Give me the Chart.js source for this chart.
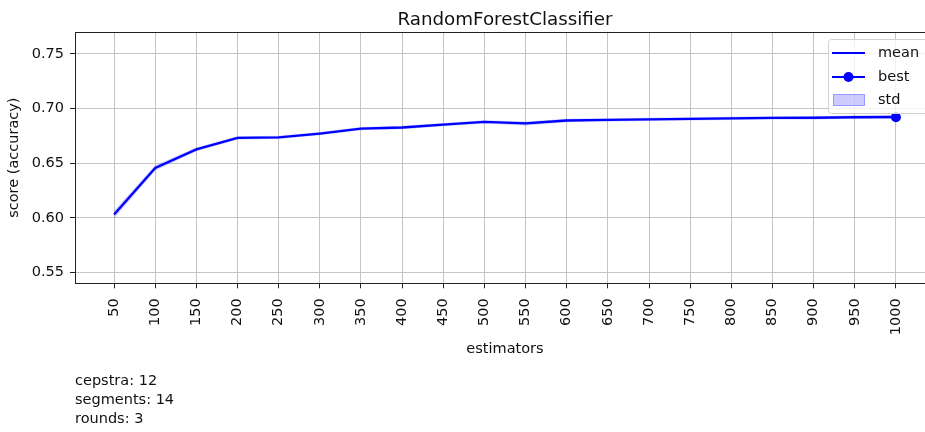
<!DOCTYPE html>
<html>
<head>
<meta charset="utf-8">
<script src="https://cdn.jsdelivr.net/npm/chart.js@4"></script>
<style>
  html, body { margin: 0; padding: 0; background: #fff; overflow: hidden; width: 925px; height: 432px; }
  #wrap { position: relative; width: 945px; height: 432px; }
  #info { position: absolute; left: 75px; top: 371px; font: 14.5px "DejaVu Sans", sans-serif; line-height: 19px; color: #111; }
</style>
</head>
<body>
<div id="wrap">
  <canvas id="myChart" width="945" height="432"></canvas>
  <div id="info"></div>
</div>
<script>
// values
const chartTitle = 'RandomForestClassifier';
const estimators = [50, 100, 150, 200, 250, 300, 350, 400, 450, 500, 550, 600, 650, 700, 750, 800, 850, 900, 950, 1000];
const meanScore = [0.6030, 0.6457, 0.6626, 0.6731, 0.6735, 0.6771, 0.6815, 0.6826, 0.6852, 0.6878, 0.6863, 0.6890, 0.6895, 0.6900, 0.6905, 0.6910, 0.6914, 0.6915, 0.6920, 0.6922];
const stdScore = [0.0035, 0.0025, 0.0018, 0.0015, 0.0015, 0.0015, 0.0015, 0.0015, 0.0015, 0.0015, 0.0018, 0.0015, 0.0015, 0.0015, 0.0015, 0.0015, 0.0015, 0.0015, 0.0015, 0.0015];
const bestEstimators = [1000];
const bestScore = [0.6920];
const yTicks = [0.55, 0.60, 0.65, 0.70, 0.75];
const infoLines = ['cepstra: 12', 'segments: 14', 'rounds: 3'];

document.getElementById('info').innerHTML = infoLines.join('<br>');

const FONT = '"DejaVu Sans", sans-serif';
const BLUE = '#0000ff';

let upper = estimators.map((x, i) => ({ x: x, y: meanScore[i] + stdScore[i] }));
let lower = estimators.map((x, i) => ({ x: x, y: meanScore[i] - stdScore[i] }));
let mean = estimators.map((x, i) => ({ x: x, y: meanScore[i] }));
let best = bestEstimators.map((x, i) => ({ x: x, y: bestScore[i] }));

// title centred over the axes, like matplotlib
const titlePlugin = {
  id: 'titlePlugin',
  afterDraw: (chart) => {
    const a = chart.chartArea;
    const ctx = chart.ctx;
    ctx.save();
    ctx.font = '18.3px ' + FONT;
    ctx.fillStyle = '#111';
    ctx.textAlign = 'center';
    ctx.textBaseline = 'alphabetic';
    ctx.fillText(chartTitle, (a.left + a.right) / 2, a.top - 7);
    ctx.restore();
  }
};

// axes frame (matplotlib spines)
const framePlugin = {
  id: 'framePlugin',
  afterDatasetsDraw: (chart) => {
    const a = chart.chartArea;
    const ctx = chart.ctx;
    ctx.save();
    ctx.strokeStyle = '#222';
    ctx.lineWidth = 1;
    ctx.strokeRect(Math.round(a.left) + 0.5, Math.round(a.top) + 0.5, Math.round(a.right - a.left), Math.round(a.bottom - a.top));
    ctx.restore();
  }
};

// legend drawn inside the axes, upper right
const legendPlugin = {
  id: 'legendPlugin',
  afterDraw: (chart) => {
    const a = chart.chartArea;
    const ctx = chart.ctx;
    const left = a.right - 107, top = a.top + 7, w = 100, h = 74;
    ctx.save();
    ctx.fillStyle = 'rgba(255,255,255,0.8)';
    ctx.strokeStyle = '#d0d0d0';
    ctx.lineWidth = 1;
    ctx.beginPath();
    ctx.roundRect(left + 0.5, top + 0.5, w, h, 3);
    ctx.fill();
    ctx.stroke();

    const hx0 = left + 4, hx1 = left + 37, tx = left + 50;
    const rows = [top + 14, top + 38, top + 61];
    ctx.font = '14.5px ' + FONT;
    ctx.fillStyle = '#111';
    ctx.textBaseline = 'middle';

    // mean
    ctx.strokeStyle = BLUE; ctx.lineWidth = 2.2;
    ctx.beginPath(); ctx.moveTo(hx0, rows[0]); ctx.lineTo(hx1, rows[0]); ctx.stroke();
    ctx.fillText(chart.data.datasets[2].label, tx, rows[0]);
    // best
    ctx.beginPath(); ctx.moveTo(hx0, rows[1]); ctx.lineTo(hx1, rows[1]); ctx.stroke();
    ctx.fillStyle = BLUE;
    ctx.beginPath(); ctx.arc((hx0 + hx1) / 2, rows[1], 5, 0, Math.PI * 2); ctx.fill();
    ctx.fillStyle = '#111';
    ctx.fillText(chart.data.datasets[3].label, tx, rows[1]);
    // std
    ctx.fillStyle = 'rgba(0,0,255,0.2)';
    ctx.fillRect(hx0 + 1, rows[2] - 6, hx1 - hx0 - 1, 12);
    ctx.strokeStyle = 'rgba(0,0,255,0.25)'; ctx.lineWidth = 1;
    ctx.strokeRect(hx0 + 1.5, rows[2] - 5.5, hx1 - hx0 - 2, 11);
    ctx.fillStyle = '#111';
    ctx.fillText(chart.data.datasets[1].label, tx, rows[2]);
    ctx.restore();
  }
};

let ctx = document.getElementById('myChart').getContext('2d');

let myChart = new Chart(ctx, {
  type: 'line',
  data: {
    datasets: [{
      label: 'std_low',
      data: lower,
      borderWidth: 0,
      pointRadius: 0,
      fill: false
    },
    {
      label: 'std',
      data: upper,
      borderWidth: 0,
      pointRadius: 0,
      backgroundColor: 'rgba(0,0,255,0.2)',
      fill: '-1'
    },
    {
      label: 'mean',
      data: mean,
      borderColor: BLUE,
      borderWidth: 2.3,
      pointRadius: 0,
      fill: false
    },
    {
      label: 'best',
      data: best,
      borderColor: BLUE,
      backgroundColor: BLUE,
      borderWidth: 2.3,
      pointRadius: 5,
      pointBorderWidth: 0,
      fill: false
    }]
  },
  options: {
    responsive: false,
    animation: false,
    devicePixelRatio: 1,
    layout: { padding: { left: 0, right: 10, top: 32, bottom: 74 } },
    plugins: {
      legend: { display: false },
      tooltip: { enabled: false },
      title: { display: false }
    },
    scales: {
      x: {
        type: 'linear',
        min: 2.5,
        max: 1047.5,
        afterBuildTicks: (s) => { s.ticks = estimators.map(v => ({ value: v })); },
        afterFit: (s) => { s.height = 74.7; },
        ticks: {
          minRotation: 90,
          maxRotation: 90,
          autoSkip: false,
          padding: 10,
          color: '#111',
          font: { family: FONT, size: 14.5 },
          callback: (v) => String(v)
        },
        grid: { color: '#c4c4c4', lineWidth: 1, tickLength: 5, tickColor: '#222' },
        border: { display: false },
        title: {
          display: true,
          text: 'estimators',
          color: '#111',
          font: { family: FONT, size: 14.5 },
          padding: { top: 0, bottom: 0 }
        }
      },
      y: {
        min: 0.5402,
        max: 0.7699,
        afterBuildTicks: (s) => { s.ticks = yTicks.map(v => ({ value: v })); },
        afterFit: (s) => { s.width = 75; },
        ticks: {
          padding: 6,
          color: '#111',
          font: { family: FONT, size: 14.5 },
          callback: (v) => v.toFixed(2)
        },
        grid: { color: '#c4c4c4', lineWidth: 1, tickLength: 5, tickColor: '#222' },
        border: { display: false },
        title: {
          display: true,
          text: 'score (accuracy)',
          color: '#111',
          font: { family: FONT, size: 14.5 },
          padding: { top: 6, bottom: 0 }
        }
      }
    }
  },
  plugins: [titlePlugin, framePlugin, legendPlugin]
});
</script>
</body>
</html>
